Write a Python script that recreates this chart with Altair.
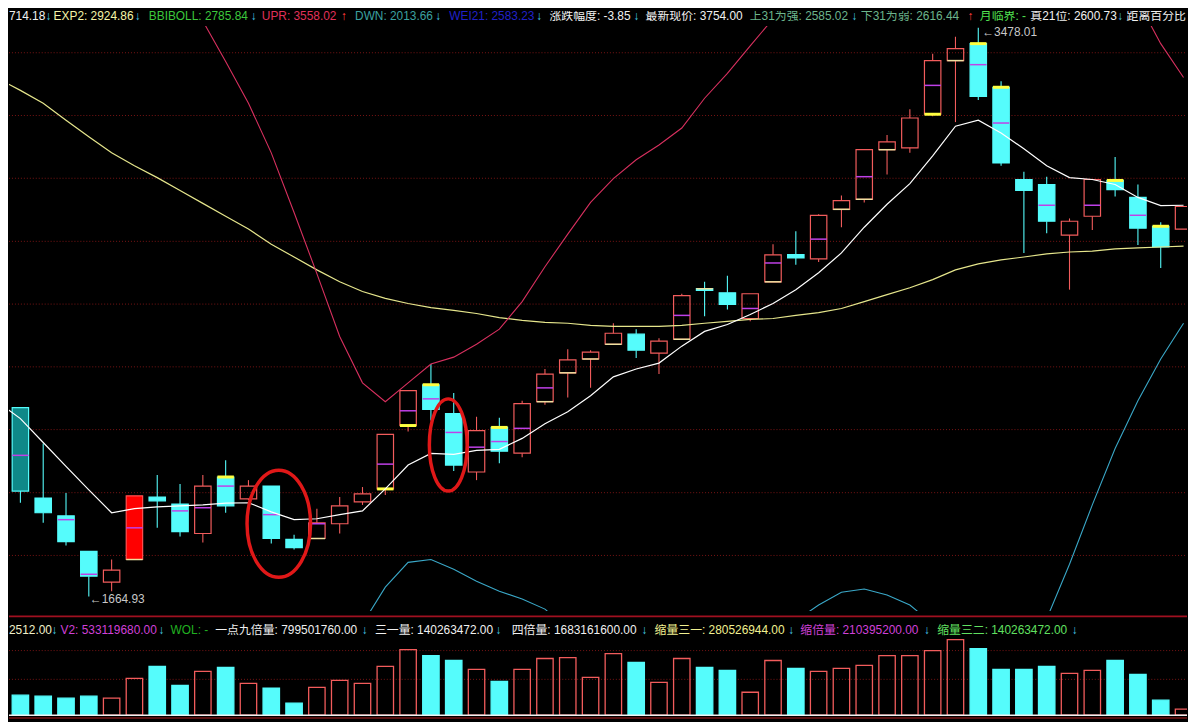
import altair as alt
import pandas as pd

# ---------------- data ----------------
idx = list(range(53))
kind = ["upfill", "downdark", "down", "down", "down", "up", "upfill", "down", "down", "up",
        "down", "up", "down", "down", "up", "up", "up", "up", "up", "down",
        "down", "up", "down", "up", "up", "up", "up", "up", "down", "up",
        "up", "down", "down", "up", "up", "down", "up", "up", "up", "up",
        "up", "up", "up", "down", "down", "down", "down", "up", "up", "down",
        "down", "down", "up"]
open_ = [2242, 2267, 1979, 1922, 1809, 1711, 1783, 1982, 1960, 1866,
         2046, 1976, 2017, 1847, 1850, 1897, 1967, 2008, 2210, 2340,
         2248, 2062, 2204, 2122, 2286, 2378, 2422, 2469, 2501, 2441,
         2485, 2646, 2633, 2551, 2668, 2755, 2741, 2899, 2931, 3089,
         3095, 3202, 3373, 3427, 3288, 2994, 2978, 2817, 2877, 2991,
         2937, 2845, 2836]
close = [2295, 2001, 1932, 1840, 1730, 1749, 1986, 1970, 1872, 2017,
         1954, 2017, 1850, 1821, 1900, 1954, 1992, 2182, 2321, 2261,
         2084, 2194, 2128, 2280, 2374, 2419, 2444, 2504, 2450, 2479,
         2624, 2641, 2596, 2630, 2754, 2744, 2880, 2927, 3089, 3114,
         3190, 3373, 3411, 3259, 3047, 2959, 2861, 2861, 2994, 2962,
         2839, 2779, 2908]
high = [2295, 2267, 2153, 1995, 1809, 1783, 1986, 2052, 2024, 2052,
        2099, 2036, 2017, 1862, 1945, 1982, 2014, 2182, 2321, 2406,
        2314, 2238, 2235, 2289, 2390, 2453, 2450, 2536, 2517, 2488,
        2630, 2668, 2687, 2630, 2788, 2829, 2883, 2943, 3089, 3136,
        3218, 3395, 3449, 3478.01, 3307, 3019, 3003, 2870, 2994, 3066,
        2978, 2858, 2908]
low = [2242, 1964, 1900, 1828, 1664.93, 1682, 1783, 1884, 1856, 1837,
       1932, 1972, 1834, 1815, 1848, 1866, 1957, 1989, 2191, 2226,
       2065, 2036, 2090, 2109, 2276, 2299, 2330, 2469, 2425, 2374,
       2485, 2558, 2580, 2542, 2668, 2722, 2731, 2842, 2921, 3010,
       3079, 3196, 3177, 3247, 3038, 2760, 2823, 2643, 2833, 2940,
       2785, 2712, 2836]
avg = [None, 2115, None, 1910, 1736, None, 1884, None, 1938, 1948,
       2017, None, 1926, None, 1897, None, None, 2087, 2257, 2295,
       2188, 2141, 2159, 2201, 2330, None, None, None, None, None,
       2561, None, None, 2583, 2728, None, 2804, None, 3003, None,
       None, 3294, None, 3360, 3174, None, 2912, None, 2912, None,
       2880, None, None]
flag = [0, 0, 0, 0, 0, 0, 1, 0, 0, 0,
        2, 0, 0, 0, 1, 0, 0, 2, 2, 2,
        0, 0, 2, 0, 1, 1, 1, 1, 0, 0,
        1, 1, 0, 0, 1, 0, 0, 1, 1, 1,
        0, 2, 1, 2, 2, 0, 0, 0, 0, 2,
        0, 2, 0]
vol = [350, 200, 190, 170, 190, 170, 370, 490, 300, 440,
       480, 320, 270, 120, 280, 350, 320, 490, 660, 600,
       550, 460, 340, 460, 570, 580, 380, 620, 530, 330,
       570, 480, 450, 230, 550, 470, 440, 470, 500, 600,
       600, 650, 760, 670, 460, 460, 490, 420, 450, 550,
       410, 150, 60]
ma_white = [2286, 2232, 2156, 2080, 2005, 1932, 1945, 1951, 1954, 1957,
            1963, 1964, 1935, 1910, 1913, 1926, 1938, 2008, 2084, 2121,
            2118, 2131, 2134, 2169, 2216, 2254, 2305, 2365, 2390, 2409,
            2463, 2510, 2532, 2564, 2599, 2643, 2697, 2760, 2842, 2915,
            2981, 3069, 3164, 3183, 3142, 3092, 3038, 3000, 2994, 2978,
            2937, 2911, 2912]
ma_yellow = [3316, 3278, 3237, 3183, 3130, 3079, 3038, 3000, 2959, 2918,
             2877, 2836, 2788, 2747, 2706, 2668, 2637, 2615, 2599, 2586,
             2577, 2567, 2554, 2545, 2539, 2536, 2529, 2526, 2526, 2526,
             2529, 2536, 2542, 2548, 2551, 2561, 2570, 2583, 2605, 2627,
             2649, 2675, 2706, 2725, 2738, 2747, 2757, 2763, 2766, 2773,
             2776, 2779, 2782]
upr = ([None] * 8 +
       [3632, 3499, 3370, 3237, 3079, 2889, 2694, 2494, 2346, 2286,
        2346, 2406, 2428, 2469, 2517, 2605, 2716, 2820, 2921, 2997,
        3057, 3104, 3158, 3253, 3332, 3420, 3506, 3600] +
       [None] * 13 +
       [3680, 3562, 3427, 3319])
dwn = ([None] * 15 +
       [1467, 1578, 1695, 1774, 1783, 1752, 1714, 1682, 1657, 1625, 1562] +
       [None] * 8 +
       [1515, 1588, 1638, 1679, 1689, 1670, 1638, 1578] +
       [None] * 3 +
       [1373, 1594, 1768, 1957, 2137, 2289, 2422, 2536])
grid_price = [3398, 3198, 2998, 2797, 2597, 2397, 2197, 1996, 1796]
grid_vol = [650, 360]
ellipse_i = [12.33, 19.76]
ellipse_p = [1897, 2148]

header_items = [
    ("714.18", 0, "#f0f0f0"), ("↓", 37, "#46c8e8"),
    ("EXP2: 2924.86", 45, "#f5f5a8"), ("↓", 127, "#46c8e8"),
    ("BBIBOLL: 2785.84", 141, "#3cc83c"), ("↓", 244, "#46c8e8"),
    ("UPR: 3558.02", 255, "#e0305a"), ("↑", 335, "#ff3c3c"),
    ("DWN: 2013.66", 349, "#3ca0a0"), ("↓", 430, "#46c8e8"),
    ("WEI21: 2583.23", 444, "#2020c8"), ("↓", 532, "#46c8e8"),
    ("涨跌幅度: -3.85", 545, "#f0f0f0"), ("↓", 630, "#46c8e8"),
    ("最新现价: 3754.00", 642, "#f0f0f0"),
    ("上31为强: 2585.02", 747, "#6cb48c"), ("↓", 850, "#46c8e8"),
    ("下31为弱: 2616.44", 859, "#6cb48c"), ("↑", 967, "#ff3c3c"),
    ("月临界: -", 979, "#50e050"),
    ("真21位: 2600.73", 1030, "#f0f0f0"), ("↓", 1118, "#46c8e8"),
    ("距离百分比", 1127, "#f0f0f0"),
]
vol_header_items = [
    ("2512.00", 0, "#f0f0c8"), ("↓", 43, "#46c8e8"),
    ("V2: 533119680.00", 52, "#d040d8"), ("↓", 151, "#46c8e8"),
    ("WOL: -", 163, "#20b020"),
    ("一点九倍量: 799501760.00", 208, "#f0f0f0"), ("↓", 356, "#46c8e8"),
    ("三一量: 140263472.00", 369, "#f0f0f0"), ("↓", 491, "#46c8e8"),
    ("四倍量: 1683161600.00", 507, "#f0f0f0"), ("↓", 638, "#46c8e8"),
    ("缩量三一: 280526944.00", 651, "#f0f090"), ("↓", 786, "#46c8e8"),
    ("缩倍量: 210395200.00", 798, "#d040d8"), ("↓", 923, "#46c8e8"),
    ("缩量三二: 140263472.00", 936, "#60e060"), ("↓", 1072, "#46c8e8"),
]

# ---------------- layout / style ----------------
W = 1188
STEP = 23.0
XD = [0.5, 0.5 + W / STEP]
PD = [1619.2, 3483.6]
VD = [-50, 1050]
FONT = "Liberation Sans, Noto Sans CJK SC, DejaVu Sans"
UPC = "#f25c5c"
DNC = "#55fcfc"
HALF = 0.36

xs = alt.Scale(domain=XD, nice=False, zero=False)
ys = alt.Scale(domain=PD, nice=False, zero=False)
vs = alt.Scale(domain=VD, nice=False, zero=False)

df = pd.DataFrame(dict(i=idx, kind=kind, open=open_, close=close, high=high,
                       low=low, avg=avg, flag=flag, vol=vol))
df["xl"] = df["i"] - HALF
df["xr"] = df["i"] + HALF
df["top"] = df[["open", "close"]].max(axis=1)
df["bot"] = df[["open", "close"]].min(axis=1)
df["dir"] = ["up" if k.startswith("up") else "down" for k in kind]
df["zero"] = 0

X = alt.X("i:Q", scale=xs, axis=None)
XL = alt.X("xl:Q", scale=xs, axis=None)
dir_color = alt.Color("dir:N", scale=alt.Scale(domain=["up", "down"], range=[UPC, DNC]), legend=None)

base = alt.Chart(df)

grid = alt.Chart(pd.DataFrame({"p": grid_price})).mark_rule(
    color="#7a1414", strokeDash=[1, 2], strokeWidth=1).encode(
    y=alt.Y("p:Q", scale=ys, axis=None), x=alt.value(0), x2=alt.value(W))

wick_up = base.mark_rule(strokeWidth=1.1, clip=True).encode(
    x=X, y=alt.Y("high:Q", scale=ys, axis=None), y2="top", color=dir_color)
wick_dn = base.mark_rule(strokeWidth=1.1, clip=True).encode(
    x=X, y=alt.Y("bot:Q", scale=ys, axis=None), y2="low", color=dir_color)

kinds = ["up", "upfill", "down", "downdark"]
bodies = base.mark_rect(strokeWidth=1.2, clip=True).encode(
    x=XL, x2="xr", y=alt.Y("top:Q", scale=ys, axis=None), y2="bot",
    fill=alt.Fill("kind:N", scale=alt.Scale(domain=kinds, range=["rgba(0,0,0,0)", "#ff0000", DNC, "#0f8888"]), legend=None),
    stroke=alt.Stroke("kind:N", scale=alt.Scale(domain=kinds, range=[UPC, "#ff5050", DNC, DNC]), legend=None))

mid = base.transform_filter("datum.avg != null").mark_rule(
    color="#c040e8", strokeWidth=1.5, clip=True).encode(
    x=XL, x2="xr", y=alt.Y("avg:Q", scale=ys, axis=None))

flag_b = base.transform_filter("datum.flag == 2").mark_rule(
    color="#ffff40", strokeWidth=3, clip=True).encode(
    x=XL, x2="xr", y=alt.Y("open:Q", scale=ys, axis=None))
flag_p = base.transform_filter("datum.flag == 1").mark_rule(
    color="#eee0a0", strokeWidth=1.5, clip=True).encode(
    x=XL, x2="xr", y=alt.Y("open:Q", scale=ys, axis=None))

ln = pd.DataFrame(dict(i=idx, w=ma_white, y=ma_yellow))
line_y = alt.Chart(ln).mark_line(color="#e6e68c", strokeWidth=1.2, clip=True).encode(
    x=X, y=alt.Y("y:Q", scale=ys, axis=None))
line_w = alt.Chart(ln).mark_line(color="#ffffff", strokeWidth=1.2, clip=True).encode(
    x=X, y=alt.Y("w:Q", scale=ys, axis=None))


def runs(vals, name):
    rows, seg, prev = [], 0, False
    for i, v in zip(idx, vals):
        if v is None:
            prev = False
            continue
        if not prev:
            seg += 1
        rows.append({"i": i, "v": v, "seg": f"{name}{seg}"})
        prev = True
    return pd.DataFrame(rows)


line_u = alt.Chart(runs(upr, "u")).mark_line(color="#d8305f", strokeWidth=1.1, clip=True).encode(
    x=X, y=alt.Y("v:Q", scale=ys, axis=None), detail="seg:N")
line_d = alt.Chart(runs(dwn, "d")).mark_line(color="#3aa8c8", strokeWidth=1.1, clip=True).encode(
    x=X, y=alt.Y("v:Q", scale=ys, axis=None), detail="seg:N")


def ellipse_path(a):
    k = 0.5523
    f = lambda v: f"{v:.4f}"
    return (f"M0,-1 C{f(a*k)},-1 {f(a)},{f(-k)} {f(a)},0 "
            f"C{f(a)},{f(k)} {f(a*k)},1 0,1 "
            f"C{f(-a*k)},1 {f(-a)},{f(k)} {f(-a)},0 "
            f"C{f(-a)},{f(-k)} {f(-a*k)},-1 0,-1 Z")


ell = pd.DataFrame(dict(i=ellipse_i, p=ellipse_p, n=[0, 1]))
ell1 = alt.Chart(ell).transform_filter("datum.n == 0").mark_point(
    shape=ellipse_path(0.593), size=108 ** 2, filled=False, color="#e01818",
    strokeWidth=3.5, opacity=1, clip=True).encode(x=X, y=alt.Y("p:Q", scale=ys, axis=None))
ell2 = alt.Chart(ell).transform_filter("datum.n == 1").mark_point(
    shape=ellipse_path(0.41), size=93 ** 2, filled=False, color="#e01818",
    strokeWidth=3.5, opacity=1, clip=True).encode(x=X, y=alt.Y("p:Q", scale=ys, axis=None))

lo_i = low.index(min(low))
hi_i = high.index(max(high))
lab_lo = alt.Chart(pd.DataFrame({"i": [lo_i], "p": [low[lo_i]], "t": ["←" + f"{low[lo_i]:.2f}"]})).mark_text(
    align="left", baseline="middle", dx=1, dy=2, fontSize=12, font=FONT, color="#c8c8c8").encode(
    x=X, y=alt.Y("p:Q", scale=ys, axis=None), text="t:N")
lab_hi = alt.Chart(pd.DataFrame({"i": [hi_i], "p": [high[hi_i]], "t": ["←" + f"{high[hi_i]:.2f}"]})).mark_text(
    align="left", baseline="middle", dx=4, dy=4, fontSize=12, font=FONT, color="#c8c8c8").encode(
    x=X, y=alt.Y("p:Q", scale=ys, axis=None), text="t:N")

main = alt.layer(grid, wick_up, wick_dn, bodies, mid, flag_p, flag_b,
                 line_y, line_u, line_d, line_w, ell1, ell2, lab_lo, lab_hi
                 ).properties(width=W, height=590)

# header
hdf = pd.DataFrame(header_items, columns=["t", "x", "c"])
header = alt.Chart(hdf).mark_text(align="left", baseline="middle", fontSize=12, font=FONT, clip=True).encode(
    x=alt.X("x:Q", scale=None, axis=None), y=alt.value(5), text="t:N",
    color=alt.Color("c:N", scale=None)).properties(width=W, height=14)

# volume panel
vgrid = alt.Chart(pd.DataFrame({"v": grid_vol})).mark_rule(
    color="#7a1414", strokeDash=[1, 2], strokeWidth=1).encode(
    y=alt.Y("v:Q", scale=vs, axis=None), x=alt.value(0), x2=alt.value(W))
sep = alt.Chart(pd.DataFrame({"v": [995]})).mark_rule(color="#a01020", strokeWidth=1.6).encode(
    y=alt.Y("v:Q", scale=vs, axis=None), x=alt.value(0), x2=alt.value(W))
vbars = base.mark_rect(strokeWidth=1.3, clip=True).encode(
    x=XL, x2="xr", y=alt.Y("vol:Q", scale=vs, axis=None), y2="zero",
    fill=alt.Fill("dir:N", scale=alt.Scale(domain=["up", "down"], range=["rgba(0,0,0,0)", DNC]), legend=None),
    stroke=alt.Stroke("dir:N", scale=alt.Scale(domain=["up", "down"], range=[UPC, DNC]), legend=None))
baseline = alt.Chart(pd.DataFrame({"v": [-1]})).mark_rule(color="#f0f0f0", strokeWidth=1.5).encode(
    y=alt.Y("v:Q", scale=vs, axis=None), x=alt.value(0), x2=alt.value(W))
bottom = alt.Chart(pd.DataFrame({"v": [-30]})).mark_rule(color="#b02020", strokeWidth=1.2).encode(
    y=alt.Y("v:Q", scale=vs, axis=None), x=alt.value(0), x2=alt.value(W))
vhdf = pd.DataFrame(vol_header_items, columns=["t", "x", "c"])
vheader = alt.Chart(vhdf).mark_text(align="left", baseline="middle", fontSize=12, font=FONT, clip=True).encode(
    x=alt.X("x:Q", scale=None, axis=None), y=alt.value(19), text="t:N",
    color=alt.Color("c:N", scale=None))

volc = alt.layer(vgrid, sep, vbars, baseline, bottom, vheader).properties(width=W, height=110)

chart = alt.vconcat(header, main, volc, spacing=0).resolve_scale(
    x="independent", y="independent", color="independent", fill="independent", stroke="independent"
).properties(padding=0, background="#000000").configure_view(strokeWidth=0).configure_concat(spacing=0)

chart.save("out.html", embed_options={"renderer": "svg", "actions": False})
